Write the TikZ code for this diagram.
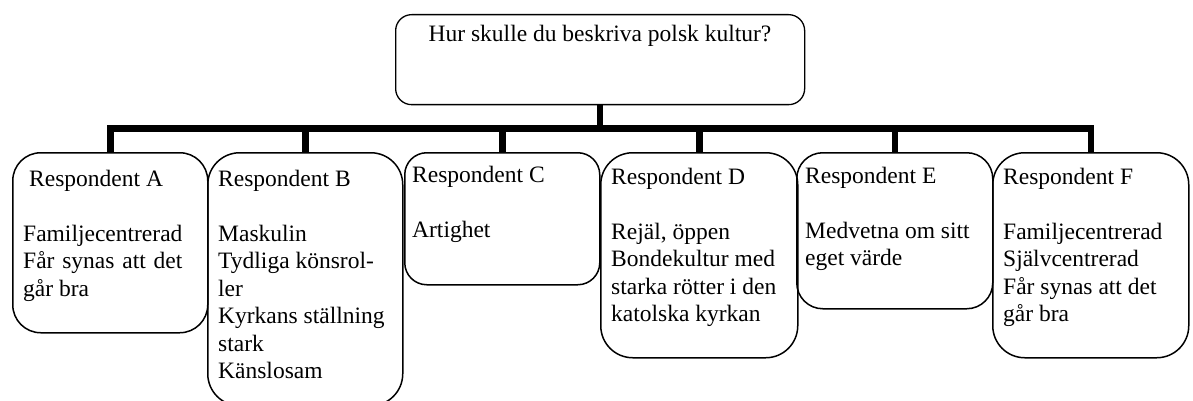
\documentclass[tikz,border=0pt]{standalone}
\usepackage{fontspec}
\setmainfont{Liberation Serif}
\usepackage{calc}
\newcommand\fst{\rule{0pt}{20pt}}
\begin{document}
\begin{tikzpicture}[x=1pt,y=-1pt,
  box/.style={draw, line width=1.5pt, rectangle, anchor=north west, inner sep=0pt},
  txt/.style={anchor=north west, inner sep=0pt, align=left, font=\fontsize{23.5}{27.5}\selectfont},
  conn/.style={line width=6.5pt}]
\useasboundingbox (0,0) rectangle (1193,401);
\clip (0,0) rectangle (1193,401);
% boxes
\node[box, line width=1.3pt, minimum width=409pt, minimum height=90pt, rounded corners=16pt] (top) at (395,14) {};
\node[box, minimum width=195pt, minimum height=180pt, rounded corners=28pt] (A) at (12,152) {};
\node[box, minimum width=195pt, minimum height=253pt, rounded corners=32pt] (B) at (207,152) {};
\node[box, minimum width=195pt, minimum height=132pt, rounded corners=22pt] (C) at (404,152) {};
\node[box, minimum width=197pt, minimum height=205pt, rounded corners=32pt] (D) at (600,152) {};
\node[box, minimum width=196pt, minimum height=156pt, rounded corners=26pt] (E) at (796,152) {};
\node[box, minimum width=196pt, minimum height=205pt, rounded corners=32pt] (F) at (992,152) {};
% texts
\node[anchor=base, inner sep=0pt, font=\fontsize{23.5}{27.5}\selectfont] (q) at (600,42) {Hur skulle du beskriva polsk kultur?};
\node[txt] (tA) at (23,166) {\hspace{6pt}\fst Respondent A\\[27.5pt]Familjecentrerad\\\makebox[\widthof{Familjecentrerad}][s]{Får synas att det}\\går bra};
\node[txt] (tB) at (218,166) {\fst Respondent B\\[27.5pt]Maskulin\\Tydliga könsrol-\\ler\\Kyrkans ställning\\stark\\Känslosam};
\node[txt] (tC) at (412,162) {\fst Respondent C\\[27.5pt]Artighet};
\node[txt] (tD) at (611,164) {\fst Respondent D\\[27.5pt]Rejäl, öppen\\Bondekultur med\\starka rötter i den\\katolska kyrkan};
\node[txt] (tE) at (805,163) {\fst Respondent E\\[27.5pt]Medvetna om sitt\\eget värde};
\node[txt] (tF) at (1003,164) {\fst Respondent F\\[27.5pt]Familjecentrerad\\Självcentrerad\\Får synas att det\\går bra};
% connectors
\coordinate (bar) at (599.5,128.5);
\draw[conn] (top.south) -- (top.south |- bar);
\draw[conn, line cap=rect] (A.north |- bar) -- (F.north |- bar);
\foreach \n in {A,B,C,D,E,F} \draw[conn] (\n.north |- bar) -- (\n.north);
\end{tikzpicture}
\end{document}
